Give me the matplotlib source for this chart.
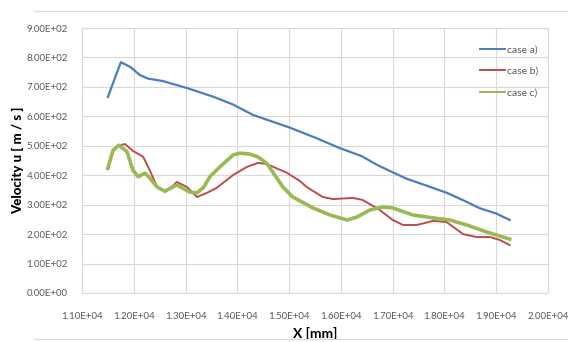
import matplotlib.pyplot as plt
from matplotlib.ticker import FuncFormatter

x_a = [11500, 11750, 11930, 12120, 12280, 12560, 13030, 13530, 13920, 14300,
       14760, 15010, 15500, 15980, 16400, 16700, 17000, 17270, 17600, 18050,
       18400, 18680, 19000, 19260]
case_a = [666, 784, 768, 740, 728, 720, 696, 667, 640, 605,
          577, 562, 528, 492, 465, 435, 410, 388, 368, 340,
          312, 288, 270, 248]

x_b = [11500, 11600, 11700, 11830, 11980, 12180, 12300, 12450, 12600, 12700,
       12830, 13030, 13220, 13410, 13600, 13920, 14180, 14400, 14570, 14960,
       15210, 15340, 15650, 15850, 16230, 16420, 16750, 17000, 17200, 17470,
       17780, 18040, 18360, 18620, 18880, 19070, 19260]
case_b = [420, 480, 500, 506, 483, 463, 420, 360, 343, 355,
          377, 360, 326, 340, 357, 401, 428, 442, 438, 408,
          380, 360, 326, 319, 323, 316, 282, 248, 231, 231,
          245, 241, 200, 190, 190, 180, 163]

x_c = [11500, 11600, 11710, 11870, 11980, 12080, 12220, 12310, 12450, 12600,
       12830, 13080, 13220, 13340, 13470, 13660, 13920, 14050, 14240, 14400,
       14570, 14880, 15070, 15460, 15790, 16120, 16310, 16560, 16810, 17000,
       17390, 17780, 18100, 18430, 18820, 19260]
case_c = [425, 485, 502, 480, 418, 395, 407, 390, 360, 346,
          367, 343, 340, 357, 395, 428, 469, 475, 472, 462,
          440, 360, 326, 289, 265, 248, 258, 282, 292, 289,
          265, 255, 248, 231, 207, 183]

plt.rcParams['font.family'] = ['Lato', 'DejaVu Sans']

fig = plt.figure(figsize=(5.68, 3.42), dpi=100)
ax = fig.add_axes([0.1444, 0.1433, 0.8204, 0.7747])

ax.plot(x_a, case_a, color='#4A7EBB', lw=1.6, solid_joinstyle='round', label='case a)')
ax.plot(x_b, case_b, color='#BE4B48', lw=1.4, solid_joinstyle='round', label='case b)')
ax.plot(x_c, case_c, color='#98B954', lw=2.6, solid_joinstyle='round', label='case c)')

ax.set_xlim(11000, 20000)
ax.set_ylim(0, 900)
ax.set_xticks(range(11000, 20001, 1000))
ax.set_yticks(range(0, 901, 100))
ax.xaxis.set_major_formatter(FuncFormatter(lambda v, p: '%.2fE+04' % (v / 1e4)))
ax.yaxis.set_major_formatter(FuncFormatter(
    lambda v, p: '0.00E+00' if v == 0 else '%.2fE+02' % (v / 1e2)))
ax.tick_params(length=0, labelsize=7, labelcolor='#595959')
ax.tick_params(axis='x', pad=14)
ax.tick_params(axis='y', pad=10)
ax.grid(color='#D9D9D9', lw=0.8)
ax.set_axisbelow(True)
for s in ax.spines.values():
    s.set_color('#D9D9D9')
    s.set_linewidth(0.8)

ax.set_xlabel('X [mm]', fontsize=10, fontweight='bold', labelpad=4)
ax.set_ylabel('Velocity u [ m / s ]', fontsize=9.5, fontweight='black', labelpad=2)

leg = ax.legend(loc='upper right', frameon=False, fontsize=7.5, handlelength=2.4,
                labelspacing=1.15, handletextpad=0.2, bbox_to_anchor=(1.0, 0.97))
for t in leg.get_texts():
    t.set_color('#595959')
for h in leg.get_lines():
    h.set_linewidth(1.4)

# screenshot frame lines
fig.add_artist(plt.Line2D([0.06, 1], [0.968, 0.968], color='#D9D9D9', lw=0.8))
fig.add_artist(plt.Line2D([0.06, 1], [0.008, 0.008], color='#D9D9D9', lw=0.8))

fig.savefig('out.png', dpi=100)
